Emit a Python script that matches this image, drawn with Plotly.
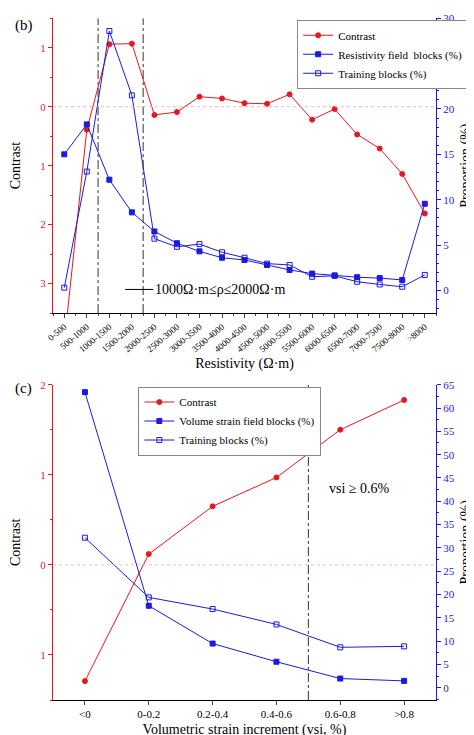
import plotly.graph_objects as go

res_cats = ["0-500","500-1000","1000-1500","1500-2000","2000-2500","2500-3000","3000-3500",
            "3500-4000","4000-4500","4500-5000","5000-5500","5500-6000","6000-6500","6500-7000",
            "7000-7500","7500-8000",">8000"]
res_contrast = [-4.0,-0.39,1.06,1.07,-0.14,-0.09,0.17,0.14,0.06,0.05,0.21,-0.22,-0.04,-0.47,-0.71,-1.14,-1.81]
res_field = [15.0,18.3,12.2,8.6,6.5,5.2,4.3,3.6,3.35,2.8,2.25,1.85,1.65,1.45,1.35,1.15,9.55]
res_train = [0.3,13.1,28.6,21.5,5.7,4.8,5.1,4.2,3.6,2.95,2.8,1.5,1.6,0.95,0.65,0.4,1.7]

vsi_cats = ["<0","0-0.2","0.2-0.4","0.4-0.6","0.6-0.8",">0.8"]
vsi_contrast = [-1.29,0.12,0.65,0.97,1.5,1.83]
vsi_field = [63.4,17.6,9.5,5.6,2.0,1.5]
vsi_train = [32.2,19.4,16.9,13.6,8.7,8.9]

RED = "#e8161e"; BLUE = "#1a1ae0"
F = "Liberation Serif"
fig = go.Figure()
xi_r = list(range(len(res_cats))); xi_v = list(range(len(vsi_cats)))

def add(x, y, xa, ya, name, color, sym, leg):
    fig.add_trace(go.Scatter(x=x, y=y, xaxis=xa, yaxis=ya, name=name, mode="lines+markers",
        line=dict(color=color, width=1), marker=dict(color=color, symbol=sym, size=5,
        line=dict(color=color, width=1)), legend=leg, cliponaxis=True))

add(xi_r, res_contrast, "x", "y", "Contrast", RED, "circle", "legend")
add(xi_r, res_field, "x", "y2", "Resistivity field  blocks (%)", BLUE, "square", "legend")
add(xi_r, res_train, "x", "y2", "Training blocks (%)", BLUE, "square-open", "legend")
add(xi_v, vsi_contrast, "x2", "y3", "Contrast", RED, "circle", "legend2")
add(xi_v, vsi_field, "x2", "y4", "Volume strain field blocks (%)", BLUE, "square", "legend2")
add(xi_v, vsi_train, "x2", "y4", "Training blocks (%)", BLUE, "square-open", "legend2")

dom = [0.095, 0.903]
TF = dict(family=F, size=14, color="black")
fig.update_layout(
    width=474, height=735, margin=dict(l=0, r=0, t=0, b=0), plot_bgcolor="white", paper_bgcolor="white",
    font=dict(family=F, color="black"),
    xaxis=dict(domain=dom, anchor="y", range=[-0.5, 16.5], tickvals=xi_r, ticktext=res_cats, tickangle=-40,
               showline=True, linecolor="black", ticks="outside", ticklen=4, tickfont=dict(family=F, size=9),
               minor=dict(ticks="outside", ticklen=2, dtick=0.5, tick0=0.5), automargin=False,
               title=dict(text="Resistivity (Ω·m)", font=TF, standoff=4)),
    yaxis=dict(domain=[0.585, 0.986], anchor="x", range=[-3.5, 1.5], tickvals=[1, 0, -1, -2, -3],
               ticktext=["1", "0", "1", "2", "3"], showline=True, linecolor=RED, ticks="outside", ticklen=4,
               tickcolor=RED, tickfont=dict(family=F, size=11, color=RED), showgrid=False, zeroline=False,
               minor=dict(ticks="outside", ticklen=2, dtick=0.5, tickcolor=RED), automargin=False,
               title=dict(text="Contrast", font=TF, standoff=18)),
    yaxis2=dict(overlaying="y", side="right", anchor="x", range=[-2.5, 30], tickvals=list(range(0, 31, 5)),
                showline=True, linecolor=BLUE, ticks="outside", ticklen=4, tickcolor=BLUE,
                tickfont=dict(family=F, size=11, color=BLUE), showgrid=False, zeroline=False,
                minor=dict(ticks="outside", ticklen=2, dtick=1, tickcolor=BLUE), automargin=False,
                title=dict(text="Proportion (%)", font=TF, standoff=6)),
    xaxis2=dict(domain=dom, anchor="y3", range=[-0.5, 5.5], tickvals=xi_v, ticktext=vsi_cats,
                showline=True, linecolor="black", ticks="outside", ticklen=4, tickfont=dict(family=F, size=11),
                automargin=False,
                title=dict(text="Volumetric strain increment (vsi, %)", font=TF, standoff=4)),
    yaxis3=dict(domain=[0.0585, 0.4875], anchor="x2", range=[-1.5, 2], tickvals=[2, 1, 0, -1],
                ticktext=["2", "1", "0", "1"], showline=True, linecolor=RED, ticks="outside", ticklen=4,
                tickcolor=RED, tickfont=dict(family=F, size=11, color=RED), showgrid=False, zeroline=False,
                minor=dict(ticks="outside", ticklen=2, dtick=0.5, tickcolor=RED), automargin=False,
                title=dict(text="Contrast", font=TF, standoff=18)),
    yaxis4=dict(overlaying="y3", side="right", anchor="x2", range=[-2.6, 65], tickvals=list(range(0, 66, 5)),
                showline=True, linecolor=BLUE, ticks="outside", ticklen=4, tickcolor=BLUE,
                tickfont=dict(family=F, size=11, color=BLUE), showgrid=False, zeroline=False,
                minor=dict(ticks="outside", ticklen=2, dtick=2.5, tickcolor=BLUE), automargin=False,
                title=dict(text="Proportion (%)", font=TF, standoff=6)),
    legend=dict(x=0.61, y=0.984, xanchor="left", yanchor="top", bgcolor="white", bordercolor="#888",
                borderwidth=1, font=dict(family=F, size=11), tracegroupgap=0, itemwidth=30),
    legend2=dict(x=0.275, y=0.485, xanchor="left", yanchor="top", bgcolor="white", bordercolor="#888",
                 borderwidth=1, font=dict(family=F, size=11), tracegroupgap=0, itemwidth=30),
    showlegend=True,
)

shapes = [
    dict(type="line", xref="x", yref="y domain", x0=1.5, x1=1.5, y0=0, y1=1, line=dict(color="#333", width=1, dash="dashdot")),
    dict(type="line", xref="x", yref="y domain", x0=3.5, x1=3.5, y0=0, y1=1, line=dict(color="#333", width=1, dash="dashdot")),
    dict(type="line", xref="x", yref="y", x0=-0.5, x1=16.5, y0=0, y1=0, line=dict(color="#f4b6b6", width=1, dash="dot")),
    dict(type="line", xref="x2", yref="y3 domain", x0=3.5, x1=3.5, y0=0, y1=1, line=dict(color="#333", width=1, dash="dashdot")),
    dict(type="line", xref="x2", yref="y3", x0=-0.5, x1=5.5, y0=0, y1=0, line=dict(color="#f4b6b6", width=1, dash="dot")),
    dict(type="line", xref="x", yref="y", x0=2.7, x1=3.95, y0=-3.1, y1=-3.1, line=dict(color="black", width=1)),
]
fig.update_layout(shapes=shapes)
fig.add_annotation(xref="x", yref="y", x=3.95, y=-3.1, text="1000Ω·m≤ρ≤2000Ω·m", showarrow=False,
                   xanchor="left", font=dict(family=F, size=14))
fig.add_annotation(xref="x2", yref="y3", x=4.3, y=0.85, text="vsi ≥ 0.6%", showarrow=False,
                   xanchor="center", font=dict(family=F, size=14))
fig.add_annotation(xref="paper", yref="paper", x=0.01, y=0.99, text="(b)", showarrow=False,
                   xanchor="left", yanchor="top", font=dict(family=F, size=15))
fig.add_annotation(xref="paper", yref="paper", x=0.01, y=0.497, text="(c)", showarrow=False,
                   xanchor="left", yanchor="top", font=dict(family=F, size=15))
fig.write_html("out.html")
